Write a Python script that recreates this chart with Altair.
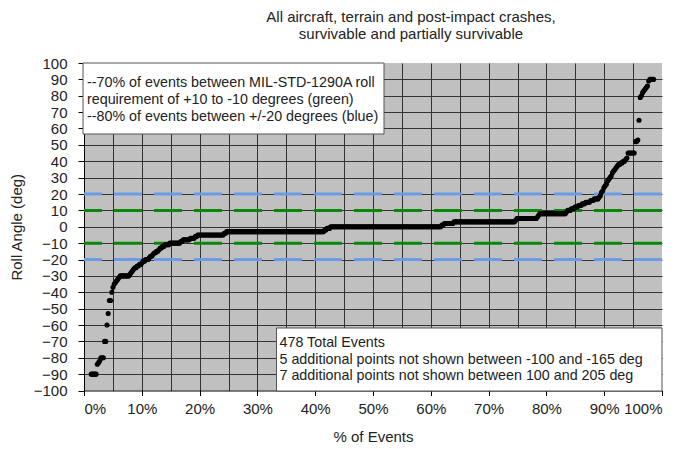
import altair as alt
import numpy as np
import pandas as pd

# ---- data (sorted roll angles, run-length encoded) ----
roll_angles = [-165, -150, -130, -120, -110,
               -90, -84, -83, -82, -80, -70, -60, -53, -45, -40,
               -37, -35, -34, -33, -32, -31, -30, -29, -28, -27, -26,
               -25, -24, -23, -22, -21, -20, -19, -18, -17, -16, -15,
               -14, -13, -12, -11, -10, -9, -8, -7, -6, -5, -4, -3,
               -2, -1, 0, 1, 2, 3, 4, 5, 6, 7, 8, 9, 10, 11, 12, 13,
               14, 15, 16, 17, 18, 19, 21, 22, 24, 25, 26, 28, 29, 30,
               31, 33, 34, 35, 36, 37, 38, 39, 40, 41, 42, 45, 52, 53,
               65, 79, 80, 82, 83, 84, 85, 86, 89, 90,
               110, 130, 150, 170, 180, 195, 205]
event_counts = [1, 1, 1, 1, 1,
                5, 1, 1, 1, 3, 2, 1, 1, 2, 1,
                1, 1, 1, 1, 1, 1, 8, 1, 1, 1, 1,
                2, 2, 2, 1, 2, 3, 1, 2, 1, 2, 2,
                1, 2, 2, 4, 9, 2, 6, 4, 2, 22, 2, 81,
                2, 3, 92, 2, 8, 51, 1, 17, 1, 1, 22, 1, 3, 3, 3, 3,
                3, 4, 3, 4, 1, 1, 1, 1, 1, 1, 1, 1, 1, 1,
                1, 1, 1, 1, 1, 1, 2, 2, 2, 1, 1, 6, 2, 1,
                1, 1, 1, 1, 1, 1, 1, 1, 1, 4,
                1, 1, 1, 1, 1, 1, 1]
total_events = 478

ref_levels = [20, 10, -10, -20]
ref_colors = ["#6a9be6", "#0a860a", "#0a860a", "#6a9be6"]

title_lines = ["All aircraft, terrain and post-impact crashes,",
               "survivable and partially survivable"]
note_top = ["--70% of events between MIL-STD-1290A roll",
            "requirement of +10 to -10 degrees (green)",
            "--80% of events between +/-20 degrees (blue)"]
note_bottom = ["478 Total Events",
               "5 additional points not shown between -100 and -165 deg",
               "7 additional points not shown between 100 and 205 deg"]

x_grid_values = list(range(0, 101, 5))
y_tick_values = list(range(-100, 101, 10))

# ---- build tables ----
angles = np.repeat(roll_angles, event_counts)
rank = np.arange(1, len(angles) + 1)
points = pd.DataFrame({"pct": rank / total_events * 100, "angle": angles})
points = points[(points.angle >= -100) & (points.angle <= 100)]
refs = pd.DataFrame({"level": ref_levels, "color": ref_colors})
one = pd.DataFrame({"k": [0]})

FONT = "Liberation Sans"

x_axis = alt.Axis(
    values=x_grid_values,
    labelExpr="datum.value % 10 === 0 ? datum.value + '%' : ''",
    tickOpacity={"condition": {"test": "datum.value % 10 === 0", "value": 1}, "value": 0},
    gridOpacity={"condition": {"test": "datum.value === 0 || datum.value === 100", "value": 0}, "value": 1},
    title="% of Events",
)
y_axis = alt.Axis(
    values=y_tick_values,
    format="d",
    gridOpacity={"condition": {"test": "datum.value === -100 || datum.value === 100", "value": 0}, "value": 1},
    title="Roll Angle (deg)",
)
x_scale = alt.Scale(domain=[0, 100], nice=False, zero=False)
y_scale = alt.Scale(domain=[-100, 100], nice=False, zero=False)

ref_rules = alt.Chart(refs).mark_rule(strokeWidth=3, strokeDash=[28, 12]).encode(
    y=alt.Y("level:Q", scale=y_scale, axis=y_axis),
    color=alt.Color("color:N", scale=None),
)

base_pts = alt.Chart(points).mark_circle(size=26, color="black", opacity=1).encode(
    x=alt.X("pct:Q", scale=x_scale, axis=x_axis),
    y=alt.Y("angle:Q", scale=y_scale, axis=y_axis),
)

box_top = alt.Chart(one).mark_rect(fill="white", stroke="#555555", strokeWidth=1).encode(
    x=alt.value(-1), x2=alt.value(300), y=alt.value(0), y2=alt.value(71)
)
text_top = alt.Chart(one).mark_text(
    text=note_top, align="left", baseline="middle", lineHeight=17,
    font=FONT, fontSize=14.3, color="#222222"
).encode(x=alt.value(3), y=alt.value(20))

box_bot = alt.Chart(one).mark_rect(fill="white", stroke="#555555", strokeWidth=1).encode(
    x=alt.value(192.5), x2=alt.value(578), y=alt.value(265), y2=alt.value(328)
)
text_bot = alt.Chart(one).mark_text(
    text=note_bottom, align="left", baseline="middle", lineHeight=16.5,
    font=FONT, fontSize=14.3, color="#222222"
).encode(x=alt.value(195.5), y=alt.value(280))

chart = alt.layer(ref_rules, base_pts, box_top, text_top, box_bot, text_bot).properties(
    width=578,
    height=327.5,
    autosize=alt.AutoSizeParams(type="none"),
    padding={"left": 76, "top": 55, "right": 13, "bottom": 62},
    background="white",
    title=alt.TitleParams(
        text=title_lines, font=FONT, fontSize=15, fontWeight="normal",
        anchor="middle", dx=38, offset=14, lineHeight=17, color="#222222",
    ),
).configure_view(fill="#c0c0c0", stroke=None).configure_axis(
    domainColor="black", domainWidth=1,
    gridColor="#333333", gridWidth=1,
    tickColor="black",
    labelFont=FONT, labelFontSize=15, labelColor="#222222",
    titleFont=FONT, titleFontSize=15, titleFontWeight="normal", titleColor="#222222",
).configure_axisX(
    tickSize=5, labelPadding=6, titlePadding=13,
).configure_axisY(
    tickSize=6, labelPadding=11, titlePadding=9,
)

chart.save("out.html", embed_options={"renderer": "svg", "actions": False})
